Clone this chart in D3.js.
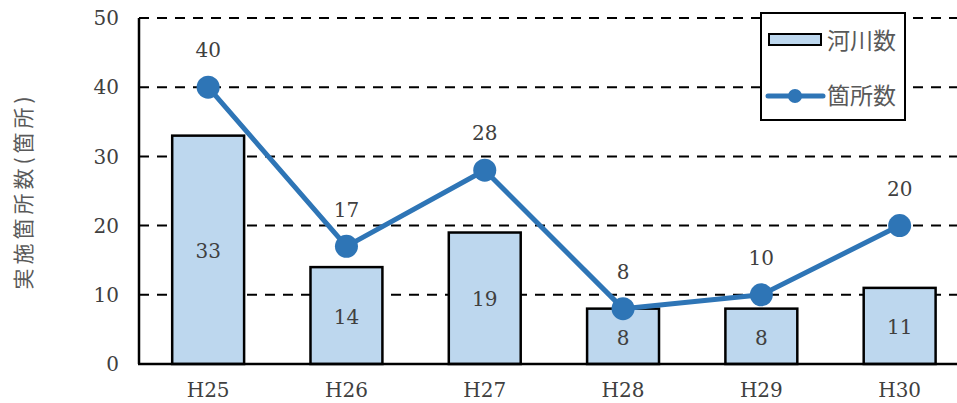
<!DOCTYPE html>
<html>
<head>
  <meta charset="utf-8">
  <script src="https://d3js.org/d3.v7.min.js"></script>
  <style>
    body { margin: 0; background: #fff; }
    svg { display: block; }
    .grid line { stroke: #000; stroke-width: 2; stroke-dasharray: 10 8; }
    .tick-label { font-family: "DejaVu Serif", serif; font-size: 20px; fill: #404040; }
    .val-label { font-family: "DejaVu Serif", serif; font-size: 20px; fill: #404040; }
    .jp { font-family: "Noto Sans CJK JP", sans-serif; fill: #595959; }
  </style>
</head>
<body>
<div id="chart"></div>
<script>
  // data
  const years = ['H25', 'H26', 'H27', 'H28', 'H29', 'H30'];
  const rivers = [33, 14, 19, 8, 8, 11];      // 河川数
  const places = [40, 17, 28, 8, 10, 20];     // 箇所数
  const yTicks = [0, 10, 20, 30, 40, 50];

  const width = 957, height = 403;
  const plotLeft = 139, plotBottom = 364, plotTop = 18;
  const step = 138.3;

  const svg = d3.select('#chart').append('svg')
    .attr('width', width)
    .attr('height', height);

  const x = d3.scaleBand()
    .domain(years)
    .range([plotLeft, plotLeft + step * years.length])
    .paddingInner(0.48)
    .paddingOuter(0.24);

  const y = d3.scaleLinear().domain([0, 50]).range([plotBottom, plotTop]);

  // dashed grid
  svg.append('g').attr('class', 'grid')
    .selectAll('line')
    .data(yTicks.filter(d => d > 0))
    .join('line')
    .attr('x1', plotLeft).attr('x2', width)
    .attr('y1', d => y(d)).attr('y2', d => y(d));

  // tick labels
  svg.append('g')
    .selectAll('text')
    .data(yTicks)
    .join('text')
    .attr('class', 'tick-label')
    .attr('x', 119)
    .attr('y', d => y(d))
    .attr('dy', '0.36em')
    .attr('text-anchor', 'end')
    .text(d => d);

  // bars
  svg.append('g')
    .selectAll('rect')
    .data(rivers)
    .join('rect')
    .attr('x', (d, i) => x(years[i]))
    .attr('y', d => y(d))
    .attr('width', x.bandwidth())
    .attr('height', d => plotBottom - y(d))
    .attr('fill', '#BDD7EE')
    .attr('stroke', '#000')
    .attr('stroke-width', 2.5);

  // bar labels
  svg.append('g')
    .selectAll('text')
    .data(rivers)
    .join('text')
    .attr('class', 'val-label')
    .attr('x', (d, i) => x(years[i]) + x.bandwidth() / 2)
    .attr('y', d => (y(d) + plotBottom) / 2 + 1)
    .attr('dy', '0.36em')
    .attr('text-anchor', 'middle')
    .text(d => d);

  // axes lines
  svg.append('line')
    .attr('x1', plotLeft).attr('x2', plotLeft)
    .attr('y1', plotTop).attr('y2', plotBottom)
    .attr('stroke', '#000').attr('stroke-width', 2.5);
  svg.append('line')
    .attr('x1', plotLeft - 1).attr('x2', width)
    .attr('y1', plotBottom).attr('y2', plotBottom)
    .attr('stroke', '#000').attr('stroke-width', 2.5);

  // line series
  const cx = (d, i) => x(years[i]) + x.bandwidth() / 2;
  const line = d3.line().x(cx).y(d => y(d));
  svg.append('path')
    .datum(places)
    .attr('d', line)
    .attr('fill', 'none')
    .attr('stroke', '#2E75B6')
    .attr('stroke-width', 5)
    .attr('stroke-linejoin', 'round');

  svg.append('g')
    .selectAll('circle')
    .data(places)
    .join('circle')
    .attr('cx', cx)
    .attr('cy', d => y(d))
    .attr('r', 11.5)
    .attr('fill', '#2E75B6');

  svg.append('g')
    .selectAll('text')
    .data(places)
    .join('text')
    .attr('class', 'val-label')
    .attr('x', cx)
    .attr('y', d => y(d) - 37)
    .attr('dy', '0.36em')
    .attr('text-anchor', 'middle')
    .text(d => d);

  // category labels
  svg.append('g')
    .selectAll('text')
    .data(years)
    .join('text')
    .attr('class', 'tick-label')
    .attr('x', d => x(d) + x.bandwidth() / 2)
    .attr('y', 390)
    .attr('dy', '0.36em')
    .attr('text-anchor', 'middle')
    .text(d => d);

  // y title
  svg.append('text')
    .attr('class', 'jp')
    .attr('font-size', 21)
    .attr('letter-spacing', 4)
    .attr('transform', 'translate(24,191) rotate(-90)')
    .attr('text-anchor', 'middle')
    .attr('dy', '0.35em')
    .text('実施箇所数(箇所)');

  // legend
  const lg = svg.append('g');
  lg.append('rect')
    .attr('x', 761).attr('y', 13).attr('width', 144).attr('height', 107)
    .attr('fill', '#fff').attr('stroke', '#000').attr('stroke-width', 2);
  lg.append('rect')
    .attr('x', 769).attr('y', 34).attr('width', 52).attr('height', 11)
    .attr('fill', '#BDD7EE').attr('stroke', '#000').attr('stroke-width', 2);
  lg.append('line')
    .attr('x1', 768).attr('x2', 823).attr('y1', 96).attr('y2', 96)
    .attr('stroke', '#2E75B6').attr('stroke-width', 5).attr('stroke-linecap', 'round');
  lg.append('circle')
    .attr('cx', 795).attr('cy', 96).attr('r', 7).attr('fill', '#2E75B6');
  lg.append('text').attr('class', 'jp').attr('font-size', 23)
    .attr('x', 827).attr('y', 41).attr('dy', '0.35em').text('河川数');
  lg.append('text').attr('class', 'jp').attr('font-size', 23)
    .attr('x', 827).attr('y', 96).attr('dy', '0.35em').text('箇所数');
</script>
</body>
</html>
